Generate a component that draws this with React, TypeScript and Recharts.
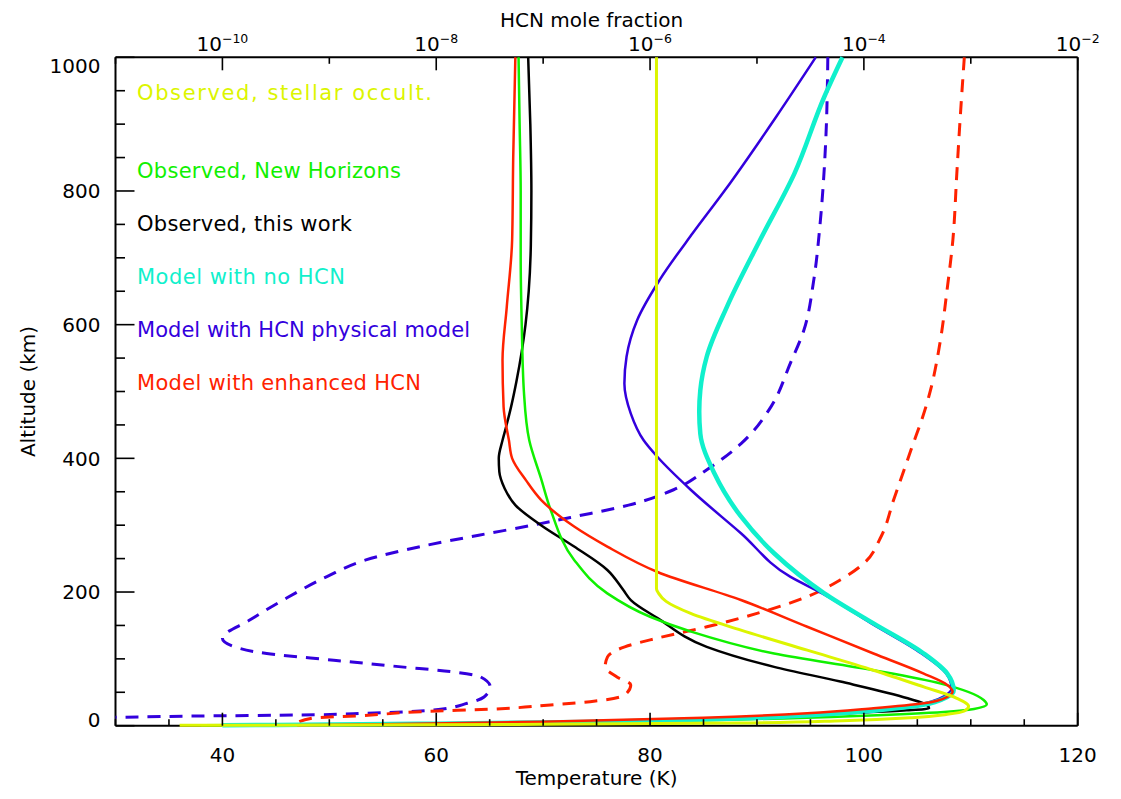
import React from "react";
import { ScatterChart, Scatter, XAxis, YAxis } from "recharts";

const FONT = "'DejaVu Sans', 'Liberation Sans', sans-serif";

// temperature profiles: [temperature (K), altitude (km)]
const stellarOccult = [
  [80.6, 1000], [80.6, 800], [80.6, 600], [80.6, 400], [80.6, 205], [80.8, 198],
  [81.5, 186], [83.8, 168], [88.5, 143], [94.7, 113], [100.9, 83], [105.6, 58],
  [108.7, 41], [109.8, 29], [109.4, 22], [107.8, 17], [104.5, 12], [98, 7.5],
  [88, 4], [70, 2], [52, 1], [36, 0.5],
];
const newHorizons = [
  [67.7, 1000], [67.8, 900], [67.9, 800], [67.9, 700], [68.0, 600], [68.2, 500],
  [68.7, 427], [69.8, 370], [70.7, 323], [72.9, 248], [76.0, 198], [80.0, 163],
  [83.8, 141], [91.6, 108], [100.9, 83], [107.2, 63], [111.2, 38.5], [111.5, 32],
  [110.3, 25], [107.5, 20.5], [100, 15], [90, 10], [75, 5.5], [60, 3], [45, 1.2], [38, 0.6],
];
const thisWork = [
  [68.6, 1000], [68.8, 900], [68.9, 800], [68.85, 720], [68.65, 650], [68.35, 600],
  [68.0, 560], [67.5, 515], [67.0, 477], [66.5, 445], [66.2, 427], [65.85, 400],
  [65.9, 380], [66.4, 355], [67.4, 330], [69.8, 300], [72.9, 268], [76.0, 233],
  [77.5, 203], [78.2, 188], [80.7, 161], [85.3, 118], [91.6, 88], [97.8, 66],
  [104.1, 41], [105.9, 31], [106.1, 26], [104, 23], [99, 19], [90, 13], [75, 6.5],
  [60, 3], [42, 0.8],
];
const noHcnModel = [
  [98.0, 1000], [96.3, 941], [93.5, 826], [90.3, 727], [87.2, 627], [85.3, 552],
  [84.7, 502], [84.6, 470], [84.7, 437], [86.0, 378], [88.5, 313], [91.6, 258],
  [96.3, 198], [100.9, 153], [105.6, 108], [107.8, 78], [108.4, 53], [107.8, 43],
  [104.1, 28], [97.8, 18.5], [88.5, 11], [75, 6], [60, 3], [45, 1.2], [40, 0.8],
];
const physicalModel = [
  [95.5, 1000], [91.8, 911], [87.0, 801], [84.0, 737], [80.9, 667], [78.8, 607],
  [77.8, 552], [77.6, 512], [78.2, 467], [79.4, 427], [80.7, 402], [83.8, 353],
  [88.5, 288], [93.1, 223], [96.1, 198], [100.7, 153], [105.4, 108], [107.7, 78],
  [108.2, 56], [107.5, 44], [103.8, 28.5], [97.5, 18.5], [88, 10.8], [75, 6], [60, 3], [45, 1.2],
];
const enhancedModel = [
  [67.4, 1000], [67.2, 850], [67.1, 727], [66.6, 627], [66.2, 547], [66.3, 477],
  [66.8, 427], [67.1, 400], [68.4, 367], [69.8, 338], [72.9, 298], [76.0, 268],
  [80.7, 230], [88.5, 188], [94.7, 148], [100.9, 108], [105.6, 78], [107.8, 61],
  [108.3, 51], [107.8, 43], [105.6, 33.5], [100.9, 26], [94.7, 18.5], [85, 12],
  [70, 6], [55, 2], [47, 0.6],
];

// HCN profiles: [mole fraction, altitude (km)]
const physicalHcn = [
  [4.6e-5, 1000], [4.4e-5, 876], [3.9e-5, 752], [3.4e-5, 667], [2.75e-5, 592],
  [2.05e-5, 542], [1.35e-5, 477], [7.1e-6, 422], [3.4e-6, 383], [1.66e-6, 353],
  [6.3e-7, 330], [2.0e-7, 313], [8.0e-8, 300], [2.5e-8, 285], [7.1e-9, 268],
  [2.2e-9, 248], [9.5e-10, 223], [3.7e-10, 188], [1.8e-10, 158], [1.0e-10, 131],
  [1.3e-10, 118], [2.6e-10, 108], [1.1e-9, 98], [4.7e-9, 88], [1.35e-8, 81],
  [2.6e-8, 73], [3.2e-8, 58], [2.8e-8, 43], [1.95e-8, 33.5], [9.5e-9, 23.5],
  [2.2e-9, 18.5], [5.4e-10, 16], [6.3e-11, 14.5], [1.0e-11, 12.5],
];
const enhancedHcn = [
  [8.7e-4, 1000], [7.9e-4, 901], [7.4e-4, 826], [6.8e-4, 727], [6.0e-4, 652],
  [5.2e-4, 577], [4.2e-4, 502], [3.8e-4, 477], [2.75e-4, 412], [1.9e-4, 338],
  [1.45e-4, 283], [1.0e-4, 243], [6.0e-5, 218], [2.95e-5, 193], [1.0e-5, 168],
  [3.4e-6, 148], [1.17e-6, 131], [5.8e-7, 118], [4.0e-7, 103], [3.8e-7, 88],
  [4.9e-7, 73], [6.6e-7, 61], [5.8e-7, 46], [2.75e-7, 36], [1.17e-7, 31],
  [3.5e-8, 25], [7.2e-9, 21], [2.0e-9, 15], [7.1e-10, 11.5], [5.0e-10, 4.5], [4.5e-10, 0.5],
];

const tempTicks = [30, 35, 40, 45, 50, 55, 60, 65, 70, 75, 80, 85, 90, 95, 100, 105, 110, 115, 120];
const tempLabels = [40, 60, 80, 100, 120];
const hcnTicks = [1e-11, 1e-10, 1e-9, 1e-8, 1e-7, 1e-6, 1e-5, 1e-4, 1e-3, 1e-2];
const hcnLabels = [-10, -8, -6, -4, -2];
const altTicks = [0, 50, 100, 150, 200, 250, 300, 350, 400, 450, 500, 550, 600, 650, 700, 750, 800, 850, 900, 950, 1000];
const altLabels = [0, 200, 400, 600, 800, 1000];

const legendLabels = [
  "Observed, stellar occult.",
  "Observed, New Horizons",
  "Observed, this work",
  "Model with no HCN",
  "Model with HCN physical model",
  "Model with enhanced HCN",
];

const C = {
  yellow: "#dcf500",
  green: "#10f000",
  black: "#000000",
  cyan: "#10f0cc",
  blue: "#3300dd",
  red: "#ff2200",
};
const legendColors = [C.yellow, C.green, C.black, C.cyan, C.blue, C.red];
const legendY = [92, 170, 223, 276, 329, 382];
const legendW = [295, 264, 215, 208, 333, 284];

const W = 1105;
const H = 783;
const TICK_X = 13;
const TICK_Y = 19;

const pts = (rows: number[][]) => rows.map(([x, y]) => ({ x, y }));
const NoDot = () => <g />;

function BottomTick(props: any) {
  const { x, y, payload } = props;
  const major = tempLabels.includes(payload.value);
  return (
    <g>
      <line x1={x} y1={y} x2={x} y2={y - (major ? TICK_X : TICK_X / 2)} stroke="#000" strokeWidth={1.6} />
      {major && (
        <text x={x} y={y + 36} textAnchor="middle" fontSize={20} fill="#000" fontFamily={FONT}>
          {payload.value}
        </text>
      )}
    </g>
  );
}

function TopTick(props: any) {
  const { x, y, payload } = props;
  const e = Math.round(Math.log10(payload.value));
  const major = hcnLabels.includes(e);
  return (
    <g>
      <line x1={x} y1={y} x2={x} y2={y + (major ? TICK_X : TICK_X / 2)} stroke="#000" strokeWidth={1.6} />
      {major && (
        <text x={x} y={y - 6} textAnchor="middle" fontSize={20} fill="#000" fontFamily={FONT}>
          10
          <tspan dy={-8} fontSize={12.5}>{"\u2212" + Math.abs(e)}</tspan>
        </text>
      )}
    </g>
  );
}

function LeftTick(props: any) {
  const { x, y, payload } = props;
  const v = payload.value;
  const major = altLabels.includes(v);
  const shift = v === 1000 ? 15.4 : v === 0 ? 1 : 7.3;
  return (
    <g>
      <line x1={x} y1={y} x2={x + (major ? TICK_Y : TICK_Y / 2)} y2={y} stroke="#000" strokeWidth={1.6} />
      {major && (
        <text x={x - 15} y={y + shift} textAnchor="end" fontSize={20} fill="#000" fontFamily={FONT}>
          {v}
        </text>
      )}
    </g>
  );
}

function RightTick(props: any) {
  const { x, y, payload } = props;
  const major = altLabels.includes(payload.value);
  return <line x1={x} y1={y} x2={x - (major ? TICK_Y : TICK_Y / 2)} y2={y} stroke="#000" strokeWidth={1.6} />;
}

const bottomTitle = (p: any) => {
  const vb = p.viewBox;
  return (
    <text x={vb.x + vb.width / 2} y={vb.y + 59.6} textAnchor="middle" fontSize={20} fill="#000" fontFamily={FONT}>
      Temperature (K)
    </text>
  );
};
const topTitle = (p: any) => {
  const vb = p.viewBox;
  return (
    <text x={vb.x + vb.width / 2 - 5} y={18.8} textAnchor="middle" fontSize={20} fill="#000" fontFamily={FONT}>
      HCN mole fraction
    </text>
  );
};
const leftTitle = (p: any) => {
  const vb = p.viewBox;
  const cy = vb.y + vb.height / 2;
  return (
    <text x={27} y={cy} transform={`rotate(-90 27 ${cy})`} textAnchor="middle" fontSize={20} fill="#000" fontFamily={FONT}>
      Altitude (km)
    </text>
  );
};

const axisLine = { stroke: "#000", strokeWidth: 2 };

export default function App() {
  return (
    <div style={{ position: "relative", width: W, height: H, fontFamily: FONT }}>
      <ScatterChart width={W} height={H} margin={{ top: 0, right: 0, bottom: 0, left: 0 }}>
        <XAxis
          xAxisId="temp"
          type="number"
          dataKey="x"
          orientation="bottom"
          domain={[30, 120]}
          ticks={tempTicks}
          interval={0}
          height={65.3}
          tickSize={0}
          tickMargin={0}
          tickLine={false}
          axisLine={axisLine}
          tick={BottomTick}
          label={bottomTitle}
        />
        <XAxis
          xAxisId="hcn"
          type="number"
          dataKey="x"
          scale="log"
          orientation="top"
          domain={[1e-11, 1e-2]}
          ticks={hcnTicks}
          interval={0}
          height={49.3}
          tickSize={0}
          tickMargin={0}
          tickLine={false}
          axisLine={axisLine}
          tick={TopTick}
          label={topTitle}
        />
        <YAxis
          yAxisId="alt"
          type="number"
          dataKey="y"
          orientation="left"
          domain={[0, 1000]}
          ticks={altTicks}
          interval={0}
          width={107.5}
          tickSize={0}
          tickMargin={0}
          tickLine={false}
          axisLine={axisLine}
          tick={LeftTick}
          label={leftTitle}
        />
        <YAxis
          yAxisId="altR"
          type="number"
          dataKey="y"
          orientation="right"
          domain={[0, 1000]}
          ticks={altTicks}
          interval={0}
          width={35.3}
          tickSize={0}
          tickMargin={0}
          tickLine={false}
          axisLine={axisLine}
          tick={RightTick}
        />
        <Scatter xAxisId="hcn" yAxisId="alt" data={pts(physicalHcn)} shape={NoDot} lineJointType="monotoneY"
          line={{ stroke: C.blue, strokeWidth: 3, strokeDasharray: "13 9" }} isAnimationActive={false} />
        <Scatter xAxisId="hcn" yAxisId="alt" data={pts(enhancedHcn)} shape={NoDot} lineJointType="monotoneY"
          line={{ stroke: C.red, strokeWidth: 3, strokeDasharray: "13 9" }} isAnimationActive={false} />
        <Scatter xAxisId="temp" yAxisId="alt" data={pts(thisWork)} shape={NoDot} lineJointType="monotoneY"
          line={{ stroke: C.black, strokeWidth: 2.5 }} isAnimationActive={false} />
        <Scatter xAxisId="temp" yAxisId="alt" data={pts(newHorizons)} shape={NoDot} lineJointType="monotoneY"
          line={{ stroke: C.green, strokeWidth: 2.5 }} isAnimationActive={false} />
        <Scatter xAxisId="temp" yAxisId="alt" data={pts(physicalModel)} shape={NoDot} lineJointType="monotoneY"
          line={{ stroke: C.blue, strokeWidth: 2.5 }} isAnimationActive={false} />
        <Scatter xAxisId="temp" yAxisId="alt" data={pts(noHcnModel)} shape={NoDot} lineJointType="monotoneY"
          line={{ stroke: C.cyan, strokeWidth: 4.5 }} isAnimationActive={false} />
        <Scatter xAxisId="temp" yAxisId="alt" data={pts(enhancedModel)} shape={NoDot} lineJointType="monotoneY"
          line={{ stroke: C.red, strokeWidth: 2.5 }} isAnimationActive={false} />
        <Scatter xAxisId="temp" yAxisId="alt" data={pts(stellarOccult)} shape={NoDot} lineJointType="monotoneY"
          line={{ stroke: C.yellow, strokeWidth: 3 }} isAnimationActive={false} />
      </ScatterChart>
      <svg width={W} height={H} style={{ position: "absolute", left: 0, top: 0, pointerEvents: "none" }}>
        {legendLabels.map((label, i) => (
          <text key={label} x={129} y={legendY[i]} fontSize={21} fill={legendColors[i]} fontFamily={FONT}
            textLength={legendW[i]} lengthAdjust="spacing">
            {label}
          </text>
        ))}
      </svg>
    </div>
  );
}
